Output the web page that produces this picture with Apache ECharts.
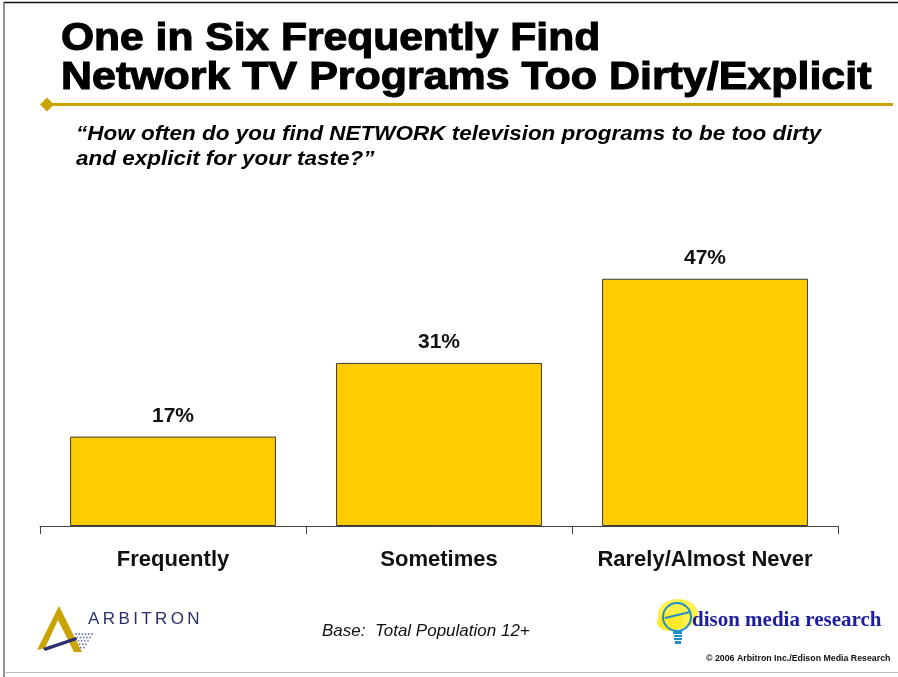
<!DOCTYPE html>
<html>
<head>
<meta charset="utf-8">
<title>One in Six Frequently Find Network TV Programs Too Dirty/Explicit</title>
<script src="https://cdn.jsdelivr.net/npm/echarts@6/dist/echarts.min.js"></script>
<style>
  html, body { margin: 0; padding: 0; background: #fff; }
  #chart { width: 898px; height: 677px; }
</style>
</head>
<body>
<div id="chart"></div>
<script>
// Survey answers and their shares (percent)
const categories = ['Frequently', 'Sometimes', 'Rarely/Almost Never'];
const shares = [17, 31, 47];

const titleLines = ['One in Six Frequently Find', 'Network TV Programs Too Dirty/Explicit'];
const questionLines = [
  '\u201CHow often do you find NETWORK television programs to be too dirty',
  'and explicit for your taste?\u201D'
];
const baseNote = 'Base:  Total Population 12+';
const copyrightNote = '\u00A9 2006 Arbitron Inc./Edison Media Research';

const SANS = '"Liberation Sans", Arial, Helvetica, sans-serif';
const SERIF = '"Liberation Serif", "Times New Roman", serif';
const GOLD = '#C9A300';
const NAVY = '#2B2F6B';

const chart = echarts.init(document.getElementById('chart'), null, { renderer: 'canvas' });

// Arbitron wordmark, letters spaced out using measured glyph widths
const measureCtx = document.createElement('canvas').getContext('2d');
const arbFont = '17px ' + SANS;
measureCtx.font = arbFont;
const arbGraphics = [];
(function () {
  let x = 88;
  for (const ch of 'ARBITRON') {
    arbGraphics.push({
      type: 'text', x: x, y: 611,
      style: { text: ch, font: arbFont, fill: NAVY, verticalAlign: 'top' }
    });
    x += measureCtx.measureText(ch).width + 3.4;
  }
})();

// dotted shading beside the Arbitron mark
const dots = [];
for (let r = 0; r < 5; r++) {
  for (let c = 0; c < 6 - r; c++) {
    dots.push({
      type: 'circle',
      shape: { cx: 76 + c * 3.2 + r * 1.2, cy: 634 + r * 3.4, r: 0.9 },
      style: { fill: '#6a74b8' }
    });
  }
}

function wideText(text, x, y, font, scaleX, styleExtra) {
  return {
    type: 'text', x: x, y: y, scaleX: scaleX, originX: 0, originY: 0,
    style: Object.assign({ text: text, font: font, fill: '#000', align: 'left', verticalAlign: 'top' }, styleExtra || {})
  };
}

const heavy = { stroke: '#000', lineWidth: 1.1 };

const option = {
  backgroundColor: '#ffffff',
  animation: false,
  grid: { left: 40, right: 60, top: 263, bottom: 151, containLabel: false },
  xAxis: {
    type: 'category',
    data: categories,
    axisLine: { show: true, lineStyle: { color: '#444', width: 1 } },
    axisTick: { show: true, length: 8, lineStyle: { color: '#444' } },
    axisLabel: {
      interval: 0,
      margin: 23,
      color: '#111',
      fontFamily: SANS,
      fontWeight: 'bold',
      fontSize: 22
    }
  },
  yAxis: {
    type: 'value',
    min: 0,
    max: 50,
    show: false,
    splitLine: { show: false }
  },
  series: [{
    type: 'bar',
    data: shares,
    barWidth: '77.4%',
    itemStyle: { color: '#FFCC00', borderColor: '#3a3a3a', borderWidth: 1 },
    label: {
      show: true,
      position: 'top',
      distance: 10,
      formatter: '{c}%',
      color: '#111',
      fontFamily: SANS,
      fontWeight: 'bold',
      fontSize: 21
    }
  }],
  graphic: [
    // page frame
    { type: 'line', shape: { x1: 4, y1: 2.5, x2: 898, y2: 2.5 }, style: { stroke: '#111', lineWidth: 1.5 } },
    { type: 'line', shape: { x1: 4, y1: 2, x2: 4, y2: 677 }, style: { stroke: '#222', lineWidth: 1 } },
    { type: 'line', shape: { x1: 4, y1: 672.5, x2: 898, y2: 672.5 }, style: { stroke: '#bbb', lineWidth: 1 } },

    // headline (heavy, wide lettering)
    wideText(titleLines[0], 61, 21, 'bold 38px ' + SANS, 1.12, heavy),
    wideText(titleLines[1], 61, 60, 'bold 38px ' + SANS, 1.13, heavy),

    // gold rule with diamond end
    { type: 'line', shape: { x1: 46, y1: 104.5, x2: 893, y2: 104.5 }, style: { stroke: GOLD, lineWidth: 3 } },
    { type: 'polygon', shape: { points: [[40, 104.5], [47, 97.5], [54, 104.5], [47, 111.5]] }, style: { fill: GOLD } },

    // question text
    wideText(questionLines[0], 76, 124, 'italic bold 21px ' + SANS, 1.07),
    wideText(questionLines[1], 76, 149, 'italic bold 21px ' + SANS, 1.07),

    // base note
    { type: 'text', left: 322, top: 623, style: { text: baseNote, font: 'italic 17px ' + SANS, fill: '#111' } },

    // Arbitron mark
    { type: 'polygon', shape: { points: [[37, 650], [59, 606], [82, 652], [74, 652], [58, 620], [45, 648]] }, style: { fill: GOLD } },
    { type: 'polygon', shape: { points: [[43, 648], [76, 637], [77, 640], [45, 651]] }, style: { fill: NAVY } },
    ...dots,
    ...arbGraphics,

    // Edison mark: yellow swirl, bulb outline and base
    { type: 'ellipse', shape: { cx: 678, cy: 614, rx: 20, ry: 15 }, style: { fill: '#FFF04A' } },
    { type: 'ellipse', shape: { cx: 670, cy: 622, rx: 13, ry: 9 }, style: { fill: '#FFEA2A' } },
    { type: 'circle', shape: { cx: 677, cy: 617, r: 14 }, style: { fill: 'none', stroke: '#1E8FC4', lineWidth: 2 } },
    { type: 'line', shape: { x1: 665, y1: 618, x2: 690, y2: 612 }, style: { stroke: '#1E8FC4', lineWidth: 2 } },
    { type: 'rect', shape: { x: 673, y: 631, width: 9, height: 3 }, style: { fill: '#1E8FC4' } },
    { type: 'rect', shape: { x: 674, y: 635, width: 8, height: 2 }, style: { fill: '#1E8FC4' } },
    { type: 'rect', shape: { x: 674, y: 638, width: 8, height: 2 }, style: { fill: '#1E8FC4' } },
    { type: 'rect', shape: { x: 675, y: 641, width: 6, height: 3 }, style: { fill: '#1E8FC4' } },
    { type: 'text', left: 692, top: 610, style: { text: 'dison media research', font: 'bold 21px ' + SERIF, fill: '#1B1F9E' } },

    // copyright
    { type: 'text', left: 706, top: 654, style: { text: copyrightNote, font: 'bold 8.8px ' + SANS, fill: '#111' } }
  ]
};

chart.setOption(option);
</script>
</body>
</html>
